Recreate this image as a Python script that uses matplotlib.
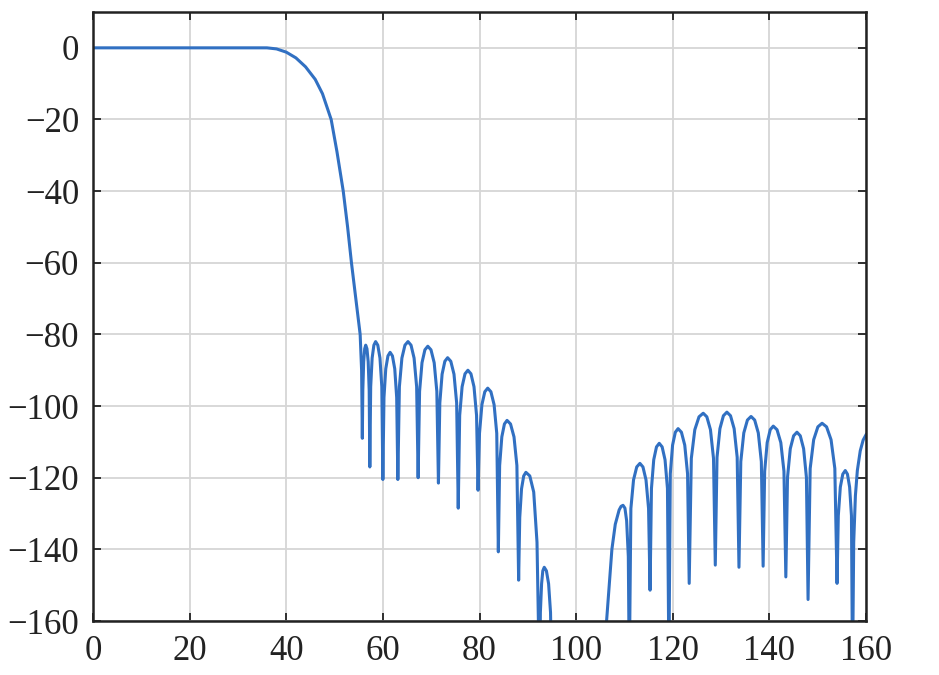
import matplotlib
matplotlib.use("Agg")
import matplotlib.pyplot as plt

# ---- data (frequency, magnitude dB) ----
transition_x = [0, 36, 38, 40, 42, 44, 46, 47.5, 49.3, 50.5, 51.8, 52.7, 53.5, 54.4, 55.3, 55.6]
transition_y = [0, 0, -0.3, -1.2, -2.8, -5.3, -8.8, -12.8, -20, -29, -40, -50, -60, -70, -80, -90]

stop1_x = [55.75, 55.85, 56.03, 56.24, 56.45, 56.71, 56.96, 57.17,
           57.3, 57.48, 57.78, 58.14, 58.5, 58.95, 59.4, 59.78,
           60.0, 60.23, 60.6, 61.05, 61.5, 61.98, 62.46, 62.86,
           63.1, 63.42, 63.94, 64.57, 65.2, 65.83, 66.46, 66.99,
           67.3, 67.6, 68.1, 68.7, 69.3, 69.96, 70.62, 71.17,
           71.5, 71.79, 72.26, 72.83, 73.4, 74.06, 74.72, 75.27,
           75.6, 75.9, 76.4, 77.0, 77.6, 78.23, 78.86, 79.39,
           79.7, 80.0, 80.5, 81.1, 81.7, 82.36, 83.02, 83.57,
           83.9, 84.17, 84.62, 85.16, 85.7, 86.42, 87.14, 87.74,
           88.1, 88.33, 88.7, 89.15, 89.6, 90.41, 91.22, 91.9,
           92.45, 92.6, 92.85, 93.1, 93.4, 93.85, 94.3, 94.7, 95.0]
stop1_y = [-109, -95.6, -87.6, -84, -83, -84, -87.6, -95.6,
           -117, -94.6, -86.6, -83, -82, -83, -86.6, -94.6,
           -120.5, -97.6, -89.6, -86, -85, -86, -89.6, -97.6,
           -120.5, -94.6, -86.6, -83, -82, -83, -86.6, -94.6,
           -120, -95.9, -87.9, -84.3, -83.3, -84.3, -87.9, -95.9,
           -121.5, -99.1, -91.1, -87.5, -86.5, -87.5, -91.1, -99.1,
           -128.5, -102.6, -94.6, -91, -90, -91, -94.6, -102.6,
           -123.5, -107.6, -99.6, -96, -95, -96, -99.6, -107.6,
           -140.7, -116.6, -108.6, -105, -104, -105, -108.6, -116.6,
           -148.6, -131.1, -123.1, -119.5, -118.5, -119.5, -124, -138,
           -180, -157.6, -149.6, -146, -145, -146, -149.6, -157.6, -180]

stop2_x = [100, 105.5, 106.3, 107.4, 108.1, 108.9, 109.3, 109.7, 110.1, 110.45, 110.8,
           111.0, 111.33, 111.88, 112.54, 113.2, 113.83, 114.46, 114.99,
           115.3, 115.59, 116.06, 116.63, 117.2, 117.8, 118.4, 118.9,
           119.2, 119.49, 119.96, 120.53, 121.1, 121.79, 122.48, 123.06,
           123.4, 123.84, 124.56, 125.43, 126.3, 127.05, 127.8, 128.43,
           128.8, 129.16, 129.76, 130.48, 131.2, 131.95, 132.7, 133.33,
           133.7, 134.08, 134.7, 135.45, 136.2, 136.95, 137.7, 138.33,
           138.7, 139.02, 139.54, 140.17, 140.8, 141.58, 142.36, 143.01,
           143.4, 143.75, 144.32, 145.01, 145.7, 146.39, 147.08, 147.66,
           148.0, 148.44, 149.16, 150.03, 150.9, 151.83, 152.76, 153.54,
           154.0, 154.26, 154.68, 155.19, 155.7, 156.15, 156.6, 156.98,
           157.2, 157.45, 157.8, 158.2, 158.8, 159.4, 160.0]
stop2_y = [-195, -185, -160, -140, -133, -129, -128, -127.7, -128.5, -132, -142,
           -175, -128.6, -120.6, -117, -116, -117, -120.6, -128.6,
           -151.4, -123, -115, -111.4, -110.4, -111.4, -115, -123,
           -172, -118.9, -110.9, -107.3, -106.3, -107.3, -110.9, -118.9,
           -149.5, -114.6, -106.6, -103, -102, -103, -106.6, -114.6,
           -144.4, -114.3, -106.3, -102.7, -101.7, -102.7, -106.3, -114.3,
           -145, -115.5, -107.5, -103.9, -102.9, -103.9, -107.5, -115.5,
           -144.7, -118.2, -110.2, -106.6, -105.6, -106.6, -110.2, -118.2,
           -147.7, -119.9, -111.9, -108.3, -107.3, -108.3, -111.9, -119.9,
           -154, -117.4, -109.4, -105.8, -104.8, -105.8, -109.4, -117.4,
           -149.5, -130.6, -122.6, -119, -118, -119, -122.6, -130.6,
           -175, -138, -125, -118, -112.5, -109.5, -108]

x_ticks = [0, 20, 40, 60, 80, 100, 120, 140, 160]
y_ticks = [0, -20, -40, -60, -80, -100, -120, -140, -160]

freq = transition_x + stop1_x + stop2_x
mag = transition_y + stop1_y + stop2_y

plt.rcParams['font.family'] = ['Liberation Serif', 'DejaVu Serif']
plt.rcParams['axes.unicode_minus'] = True

fig = plt.figure(figsize=(9.39, 6.75), dpi=100)
ax = fig.add_axes([0.099, 0.08, 0.8233, 0.9022])

ax.plot(freq, mag, color='#3170c2', linewidth=2.2, solid_joinstyle='round')

ax.set_xlim(0, 160)
ax.set_ylim(-160, 10)
ax.set_xticks(x_ticks)
ax.set_yticks(y_ticks)
ax.set_xticklabels([str(v) for v in x_ticks])
ax.set_yticklabels([str(v).replace('-', '\u2212') for v in y_ticks])

ax.grid(True, color='#d6d6d6', linewidth=1.3)
ax.set_axisbelow(True)
ax.tick_params(direction='in', length=6, width=1.3, top=True, right=True,
               labelsize=25, colors='#222222', pad=10)
for s in ax.spines.values():
    s.set_linewidth(1.8)
    s.set_color('#222222')

fig.savefig('out.png', dpi=100)
